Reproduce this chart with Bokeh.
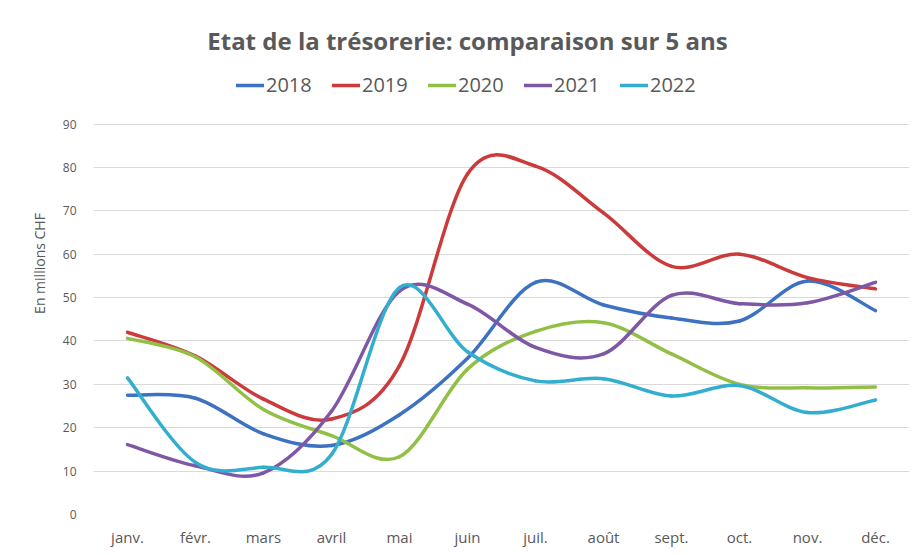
from bokeh.plotting import figure
from bokeh.models import (ColumnDataSource, Range1d, FixedTicker, Legend, LegendItem, Label)
from bokeh.embed import file_html
from bokeh.resources import INLINE

months = ["janv.", "févr.", "mars", "avril", "mai", "juin", "juil.", "août", "sept.", "oct.", "nov.", "déc."]
y2018 = [27.5, 26.8, 18.6, 15.9, 23.0, 36.0, 53.5, 48.3, 45.3, 44.6, 53.8, 47.0]
y2019 = [42.0, 36.5, 26.6, 22.0, 34.3, 78.5, 80.3, 69.5, 57.2, 60.0, 54.6, 52.0]
y2020 = [40.6, 36.3, 24.2, 18.2, 13.3, 33.5, 42.2, 44.2, 37.0, 30.0, 29.2, 29.4]
y2021 = [16.1, 11.2, 9.6, 23.8, 51.5, 48.5, 38.5, 37.0, 50.5, 48.6, 48.8, 53.5]
y2022 = [31.5, 12.0, 10.9, 13.8, 52.3, 37.5, 30.8, 31.3, 27.3, 29.7, 23.5, 26.4]
series_names = ["2018", "2019", "2020", "2021", "2022"]
series_values = [y2018, y2019, y2020, y2021, y2022]
colors = ["#3D72C2", "#CC3B3B", "#92C047", "#7E57A5", "#33AECF"]
y_ticks = [0, 10, 20, 30, 40, 50, 60, 70, 80, 90]

FONT = "Open Sans"
GRAY = "#595959"

# frame spans from the title area down to the zero line; the grid stops at 90
p = figure(width=914, height=549, output_backend="svg", toolbar_location=None,
           x_range=Range1d(0, len(months)), y_range=Range1d(0, 115.7),
           min_border_left=93, min_border_right=5, min_border_top=12, min_border_bottom=33)
p.outline_line_color = None
p.background_fill_color = "white"
p.border_fill_color = "white"

xs = [i + 0.5 for i in range(len(months))]

def smooth_segments(xv, yv):
    n = len(xv)
    d = dict(x0=[], y0=[], x1=[], y1=[], cx0=[], cy0=[], cx1=[], cy1=[])
    for i in range(n - 1):
        p0 = (xv[max(i - 1, 0)], yv[max(i - 1, 0)])
        p1 = (xv[i], yv[i])
        p2 = (xv[i + 1], yv[i + 1])
        p3 = (xv[min(i + 2, n - 1)], yv[min(i + 2, n - 1)])
        d["x0"].append(p1[0]); d["y0"].append(p1[1])
        d["x1"].append(p2[0]); d["y1"].append(p2[1])
        d["cx0"].append(p1[0] + (p2[0] - p0[0]) / 6.0)
        d["cy0"].append(p1[1] + (p2[1] - p0[1]) / 6.0)
        d["cx1"].append(p2[0] - (p3[0] - p1[0]) / 6.0)
        d["cy1"].append(p2[1] - (p3[1] - p1[1]) / 6.0)
    return d

items = []
for name, vals, col in zip(series_names, series_values, colors):
    src = ColumnDataSource(smooth_segments(xs, vals))
    r = p.bezier(x0="x0", y0="y0", x1="x1", y1="y1", cx0="cx0", cy0="cy0", cx1="cx1", cy1="cy1",
                 source=src, line_color=col, line_width=3.5, line_cap="round")
    items.append(LegendItem(label=name, renderers=[r]))

# axes
p.xaxis.ticker = FixedTicker(ticks=xs)
p.xaxis.major_label_overrides = {x: m for x, m in zip(xs, months)}
p.yaxis.ticker = FixedTicker(ticks=y_ticks)
for ax in (p.xaxis[0], p.yaxis[0]):
    ax.axis_line_color = None
    ax.major_tick_line_color = None
    ax.minor_tick_line_color = None
    ax.major_tick_out = 0
    ax.major_tick_in = 0
    ax.minor_tick_out = 0
    ax.major_label_text_color = GRAY
    ax.major_label_text_font = FONT
    ax.major_label_text_font_size = "12px"
p.xaxis.major_label_text_font_size = "15px"
p.xaxis.major_label_standoff = 12
p.yaxis.major_label_standoff = 17
p.yaxis.axis_label = "En millions CHF"
p.yaxis.axis_label_text_font = FONT
p.yaxis.axis_label_text_font_size = "14px"
p.yaxis.axis_label_text_font_style = "normal"
p.yaxis.axis_label_text_color = GRAY
p.yaxis.axis_label_standoff = 11

p.xgrid.grid_line_color = None
p.ygrid.grid_line_color = "#D9D9D9"
p.ygrid.grid_line_width = 1

# title
title = Label(x=5.5, y=109.2, text="Etat de la trésorerie: comparaison sur 5 ans",
              text_font=FONT, text_font_size="24px", text_font_style="bold",
              text_color=GRAY, text_align="center", text_baseline="middle")
p.add_layout(title)

legend = Legend(items=items, orientation="horizontal", location=(143, 416),
                glyph_width=28, glyph_height=20, label_standoff=2, label_width=60,
                spacing=6, padding=0, margin=0, border_line_color=None,
                background_fill_alpha=0, label_text_font=FONT,
                label_text_font_size="20px", label_text_color=GRAY)
p.add_layout(legend, "center")

open("out.html", "w").write(file_html(p, INLINE))
